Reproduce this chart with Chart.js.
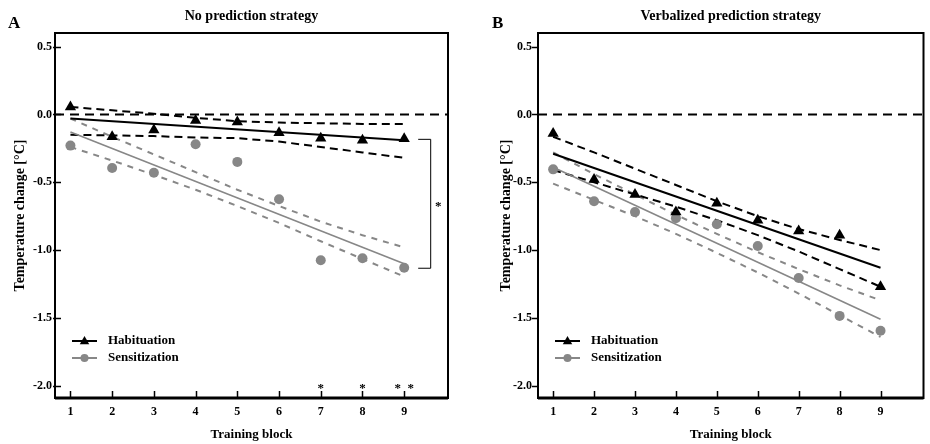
<!DOCTYPE html>
<html>
<head>
<meta charset="utf-8">
<script src="https://cdn.jsdelivr.net/npm/chart.js@4.4.1/dist/chart.umd.min.js"></script>
<style>
  html, body { margin:0; padding:0; background:#fff; }
  #wrap { position:relative; width:930px; height:444px; }
  .panel { position:absolute; top:0; width:465px; height:444px; }
</style>
</head>
<body>
<div id="wrap">
  <div class="panel" style="left:0"><canvas id="chartA" width="465" height="444"></canvas></div>
  <div class="panel" style="left:465px"><canvas id="chartB" width="465" height="444"></canvas></div>
</div>
<script>
// training blocks and axis ticks
const blocks = [1, 2, 3, 4, 5, 6, 7, 8, 9];
const yTicks = [-2.0, -1.5, -1.0, -0.5, 0.0, 0.5];
const xMin = 0.63, xMax = 10.05;
const yMin = -2.09, yMax = 0.6;
const fitBlocks = [1, 9];

// A: no prediction strategy
const habA  = [0.055, -0.165, -0.115, -0.045, -0.055, -0.135, -0.175, -0.19, -0.18];
const sensA = [-0.23, -0.395, -0.43, -0.22, -0.35, -0.625, -1.075, -1.06, -1.13];
const habFitA  = [-0.03, -0.19];
const sensFitA = [-0.13, -1.10];
const habUpA  = [0.055, 0.03, 0.005, -0.025, -0.05, -0.06, -0.065, -0.07, -0.07];
const habLoA  = [-0.15, -0.155, -0.16, -0.17, -0.175, -0.20, -0.24, -0.28, -0.32];
const sensUpA = [-0.03, -0.165, -0.295, -0.425, -0.555, -0.675, -0.79, -0.89, -0.98];
const sensLoA = [-0.24, -0.34, -0.445, -0.555, -0.675, -0.80, -0.935, -1.065, -1.195];
const starBlocksA = [7, 8, 9];
const starLabelsA = ['*', '*', '* *'];

// B: verbalized prediction strategy
const habB  = [-0.14, -0.48, -0.59, -0.72, -0.655, -0.78, -0.86, -0.89, -1.27];
const sensB = [-0.405, -0.64, -0.72, -0.765, -0.81, -0.97, -1.205, -1.485, -1.595];
const habFitB  = [-0.29, -1.13];
const sensFitB = [-0.39, -1.51];
const habUpB  = [-0.165, -0.28, -0.40, -0.52, -0.64, -0.75, -0.845, -0.925, -1.00];
const habLoB  = [-0.41, -0.50, -0.59, -0.68, -0.78, -0.89, -1.01, -1.14, -1.27];
const sensUpB = [-0.28, -0.44, -0.59, -0.74, -0.88, -1.015, -1.14, -1.26, -1.37];
const sensLoB = [-0.51, -0.63, -0.75, -0.88, -1.02, -1.165, -1.32, -1.48, -1.64];

const SERIF = '"Liberation Serif", "Times New Roman", serif';
const GREY = '#878787';

const pts = (xs, ys) => xs.map((x, i) => ({x: x, y: ys[i]}));

function tri(ctx, x, y, r){
  ctx.beginPath();
  ctx.moveTo(x, y - r);
  ctx.lineTo(x + r * 0.95, y + r * 0.65);
  ctx.lineTo(x - r * 0.95, y + r * 0.65);
  ctx.closePath();
  ctx.fill();
}

function decor(cfg){
  return {
    id: 'decor' + cfg.letter,
    afterDraw(chart){
      const ctx = chart.ctx, a = chart.chartArea;
      const x = chart.scales.x, y = chart.scales.y;
      ctx.save();
      ctx.strokeStyle = '#000';
      ctx.fillStyle = '#000';
      // frame
      ctx.lineWidth = 2;
      ctx.strokeRect(a.left, a.top, a.right - a.left, a.bottom - a.top);
      ctx.lineWidth = 3;
      ctx.beginPath(); ctx.moveTo(a.left, a.bottom); ctx.lineTo(a.right, a.bottom); ctx.stroke();
      // y ticks (cross the axis), x ticks point inward
      ctx.lineWidth = 1.5;
      yTicks.forEach(v => {
        const py = Math.round(y.getPixelForValue(v)) + 0.5;
        ctx.beginPath(); ctx.moveTo(a.left - cfg.tickOut, py); ctx.lineTo(a.left + cfg.tickIn, py); ctx.stroke();
      });
      blocks.forEach(b => {
        const px = Math.round(x.getPixelForValue(b)) + 0.5;
        ctx.beginPath(); ctx.moveTo(px, a.bottom); ctx.lineTo(px, a.bottom - 7); ctx.stroke();
      });
      // panel letter and title
      ctx.textBaseline = 'alphabetic';
      ctx.textAlign = 'left';
      ctx.font = 'bold 17px ' + SERIF;
      ctx.fillText(cfg.letter, cfg.letterX, 28);
      ctx.textAlign = 'center';
      ctx.font = 'bold 14px ' + SERIF;
      ctx.fillText(cfg.title, (a.left + a.right) / 2, 20);
      // legend
      const lx = a.left + 17, ly1 = a.top + 308, ly2 = a.top + 325;
      ctx.lineWidth = 2;
      ctx.strokeStyle = '#000';
      ctx.beginPath(); ctx.moveTo(lx, ly1); ctx.lineTo(lx + 25, ly1); ctx.stroke();
      tri(ctx, lx + 12.5, ly1, 5);
      ctx.strokeStyle = GREY; ctx.fillStyle = GREY;
      ctx.beginPath(); ctx.moveTo(lx, ly2); ctx.lineTo(lx + 25, ly2); ctx.stroke();
      ctx.beginPath(); ctx.arc(lx + 12.5, ly2, 4, 0, Math.PI * 2); ctx.fill();
      ctx.fillStyle = '#000';
      ctx.textAlign = 'left';
      ctx.textBaseline = 'middle';
      ctx.font = 'bold 13px ' + SERIF;
      ctx.fillText('Habituation', lx + 36, ly1);
      ctx.fillText('Sensitization', lx + 36, ly2);
      // significance marks
      if (cfg.stars){
        ctx.textAlign = 'center';
        ctx.textBaseline = 'alphabetic';
        ctx.font = 'bold 13px ' + SERIF;
        cfg.stars.blocks.forEach((b, i) => {
          ctx.fillText(cfg.stars.labels[i].replace(' ', '\u2002'), x.getPixelForValue(b), y.getPixelForValue(-2.0) + 6);
        });
      }
      if (cfg.bracket){
        const px9 = x.getPixelForValue(9);
        const yTop = y.getPixelForValue(cfg.bracket[0]);
        const yBot = y.getPixelForValue(cfg.bracket[1]);
        ctx.strokeStyle = '#000';
        ctx.lineWidth = 1;
        ctx.beginPath();
        ctx.moveTo(px9 + 14, yTop + 0.5); ctx.lineTo(px9 + 26.5, yTop + 0.5);
        ctx.lineTo(px9 + 26.5, yBot + 0.5); ctx.lineTo(px9 + 14, yBot + 0.5);
        ctx.stroke();
        ctx.textAlign = 'center';
        ctx.textBaseline = 'middle';
        ctx.font = 'bold 13px ' + SERIF;
        ctx.fillText('*', px9 + 34, (yTop + yBot) / 2 + 3);
      }
      ctx.restore();
    }
  };
}

function makePanel(id, d, cfg){
  const lineDs = (data, color, width, dash) => ({
    data: data, showLine: true, borderColor: color, borderWidth: width,
    borderDash: dash, pointRadius: 0, fill: false, tension: 0
  });
  return new Chart(document.getElementById(id), {
    type: 'scatter',
    data: {
      datasets: [
        {data: pts(blocks, d.hab), pointStyle: 'triangle', pointRadius: 6.5,
         backgroundColor: '#000', borderColor: '#000', borderWidth: 0, showLine: false},
        {data: pts(blocks, d.sens), pointStyle: 'circle', pointRadius: 5,
         backgroundColor: GREY, borderColor: GREY, borderWidth: 0, showLine: false},
        lineDs(pts(fitBlocks, d.habFit), '#000', 2, []),
        lineDs(pts(fitBlocks, d.sensFit), GREY, 1.6, []),
        lineDs(pts(blocks, d.habUp), '#000', 2, [8, 5]),
        lineDs(pts(blocks, d.habLo), '#000', 2, [8, 5]),
        lineDs(pts(blocks, d.sensUp), GREY, 2, [6, 6]),
        lineDs(pts(blocks, d.sensLo), GREY, 2, [6, 6]),
        lineDs([{x: xMin, y: 0}, {x: xMax, y: 0}], '#000', 2, [9, 6])
      ]
    },
    options: {
      responsive: false,
      animation: false,
      devicePixelRatio: 1,
      layout: {padding: {top: 33, right: cfg.rightPad, left: 0, bottom: 0}},
      plugins: {legend: {display: false}, tooltip: {enabled: false}},
      scales: {
        x: {
          type: 'linear', min: xMin, max: xMax,
          grid: {display: false, drawTicks: false},
          border: {display: false},
          afterBuildTicks: s => { s.ticks = blocks.map(v => ({value: v})); },
          afterFit: s => { s.height = 46; },
          ticks: {padding: 7, color: '#000', font: {family: SERIF, size: 12, weight: 'bold'},
                  callback: v => String(v)},
          title: {display: true, text: 'Training block', color: '#000',
                  font: {family: SERIF, size: 13, weight: 'bold'}, padding: {top: 0, bottom: 2}}
        },
        y: {
          type: 'linear', min: yMin, max: yMax,
          grid: {display: false, drawTicks: false},
          border: {display: false},
          afterBuildTicks: s => { s.ticks = yTicks.map(v => ({value: v})); },
          afterFit: s => { s.width = cfg.axisW; },
          ticks: {padding: cfg.tickPad, color: '#000', font: {family: SERIF, size: 12, weight: 'bold'},
                  callback: v => Number(v).toFixed(1)},
          title: {display: true, text: 'Temperature change [°C]', color: '#000',
                  font: {family: SERIF, size: 14, weight: 'bold'}, padding: {top: cfg.titlePad, bottom: 0}}
        }
      }
    },
    plugins: [decor(cfg)]
  });
}

makePanel('chartA',
  {hab: habA, sens: sensA, habFit: habFitA, sensFit: sensFitA,
   habUp: habUpA, habLo: habLoA, sensUp: sensUpA, sensLo: sensLoA},
  {letter: 'A', letterX: 8, title: 'No prediction strategy', axisW: 55, rightPad: 17,
   tickPad: 3, tickOut: 2, tickIn: 6, titlePad: 12,
   stars: {blocks: starBlocksA, labels: starLabelsA},
   bracket: [habA[8], sensA[8]]});

makePanel('chartB',
  {hab: habB, sens: sensB, habFit: habFitB, sensFit: sensFitB,
   habUp: habUpB, habLo: habLoB, sensUp: sensUpB, sensLo: sensLoB},
  {letter: 'B', letterX: 27, title: 'Verbalized prediction strategy', axisW: 73, rightPad: 1,
   tickPad: 6, tickOut: 6, tickIn: 1, titlePad: 33});
</script>
</body>
</html>
